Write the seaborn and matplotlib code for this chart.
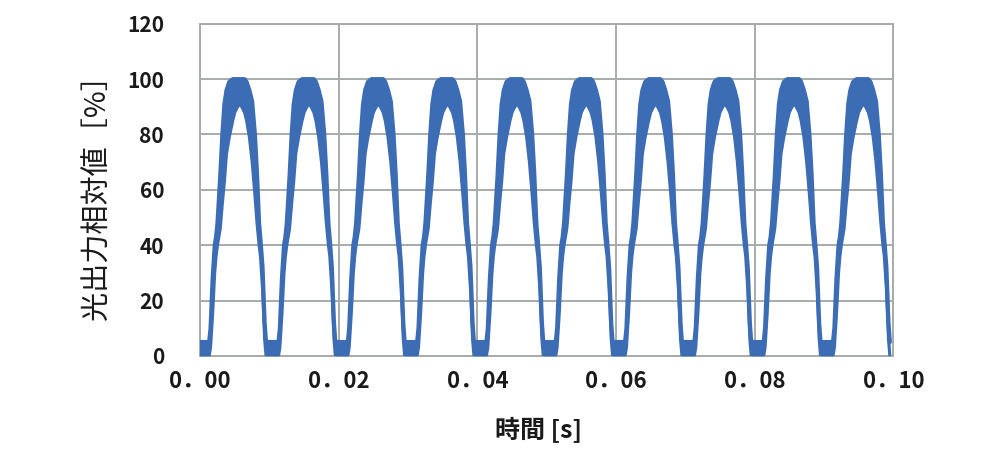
import numpy as np
import pandas as pd
import matplotlib
matplotlib.use("Agg")
import matplotlib.pyplot as plt
import seaborn as sns

# trough centres [s]
TROUGH_CENTRES = [0.0005, 0.0105, 0.0205, 0.0305, 0.0405,
                  0.0505, 0.0605, 0.0705, 0.0805, 0.0905]

# one cycle, offset from trough centre [ms]; outer / inner edge of the ripple band
CYCLE_DT = [-1.0, 0.8, 1.0, 1.3, 1.6, 1.8, 2.0, 2.4, 2.7, 3.0, 3.3, 3.7, 4.2,
            4.5, 4.9, 5.2, 5.5, 5.9, 6.2, 6.6, 7.0, 7.4, 7.7, 8.0, 8.2, 8.5, 8.8, 9.0]
CYCLE_UPPER = [5, 5, 10, 28, 40, 43, 48, 65, 80, 91, 96, 99, 100,
               100, 100, 100, 100, 100, 99, 96, 92, 80, 66, 48, 42, 32, 12, 5]
CYCLE_LOWER = [0, 0, 3, 15, 30, 36, 40, 46, 55, 63, 73, 79, 85,
               88, 90, 91, 90, 88, 85, 79, 70, 58, 48, 40, 36, 24, 6, 0]

Y_TICKS = [0, 20, 40, 60, 80, 100, 120]
X_TICKS = [0.00, 0.02, 0.04, 0.06, 0.08, 0.10]
X_LABELS = ["0．00", "0．02", "0．04", "0．06", "0．08", "0．10"]

LINE_COLOR = "#3b6cb4"
GRID_COLOR = "#a8aca8"

rows = []
for tc in TROUGH_CENTRES:
    for dt, up, lo in zip(CYCLE_DT, CYCLE_UPPER, CYCLE_LOWER):
        rows.append((tc + dt / 1000.0, up, lo))
df = pd.DataFrame(rows, columns=["t", "upper", "lower"])

sns.set_theme(style="white")
plt.rcParams["font.family"] = ["Noto Sans CJK JP", "DejaVu Sans"]

fig = plt.figure(figsize=(9.86, 4.58), dpi=100)
ax = fig.add_axes([0.203, 0.223, 0.703, 0.725])

ax.fill_between(df["t"], df["lower"], df["upper"], color=LINE_COLOR, linewidth=0, zorder=3)
sns.lineplot(data=df, x="t", y="upper", color=LINE_COLOR, linewidth=3, sort=False, ax=ax, zorder=4)
sns.lineplot(data=df, x="t", y="lower", color=LINE_COLOR, linewidth=2.2, sort=False, ax=ax, zorder=4)

ax.set_xlim(0, 0.1)
ax.set_ylim(0, 120)
ax.set_xticks(X_TICKS)
ax.set_xticklabels(X_LABELS)
ax.set_yticks(Y_TICKS)

ax.grid(True, color=GRID_COLOR, linewidth=1.4)
ax.set_axisbelow(True)
for side, sp in ax.spines.items():
    sp.set_color(GRID_COLOR)
    sp.set_linewidth(1.4)

ax.tick_params(axis="both", which="both", direction="out", length=4, width=1.2,
               color=GRID_COLOR, labelsize=15)
ax.tick_params(axis="y", pad=22)
ax.tick_params(axis="x", labelsize=16, pad=6)
for lab in ax.get_xticklabels() + ax.get_yticklabels():
    lab.set_fontweight("bold")
    lab.set_color("#1a1a1a")

ax.set_xlabel("時間 [s]", fontsize=18, fontweight="bold", color="#1a1a1a")
ax.xaxis.set_label_coords(0.488, -0.185)
ax.set_ylabel("光出力相対値［%］", fontsize=21, color="#1a1a1a", labelpad=10)

fig.savefig("out.png", dpi=100)
